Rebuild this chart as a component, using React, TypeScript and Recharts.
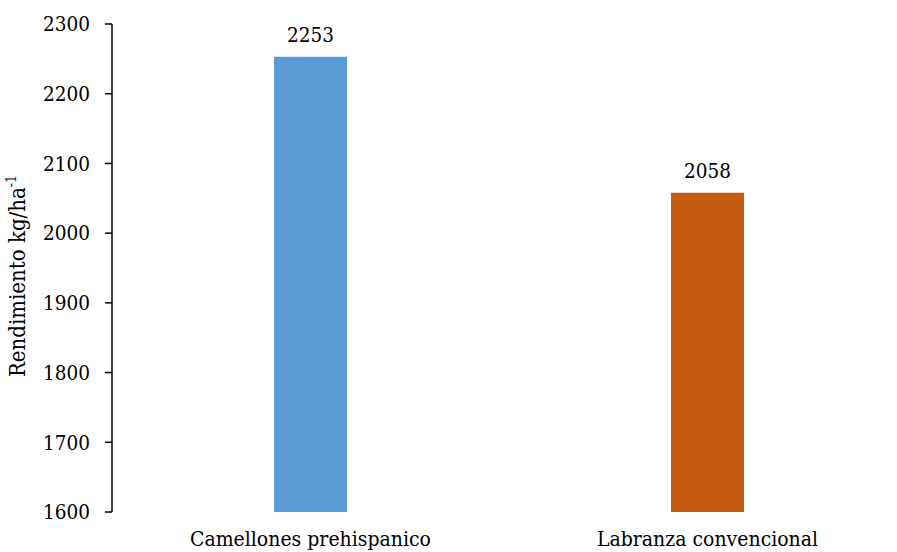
import { BarChart, Bar, XAxis, YAxis, Cell, LabelList } from 'recharts';

const categories = ['Camellones prehispanico', 'Labranza convencional'];
const yields = [2253, 2058];
const barColors = ['#5B9BD5', '#C55A11'];
const yTicks = [1600, 1700, 1800, 1900, 2000, 2100, 2200, 2300];
const boundaryTicks = [0, 1, 2];

const data = categories.map((name, i) => ({ name, value: yields[i] }));

// Times isn't available here, the condensed DejaVu serif is the closest fit
const font = "DejaVu Serif Condensed";

function YLabel({ viewBox }: any) {
  const cy = viewBox.y + viewBox.height / 2 + 8;
  const cx = 25;
  return (
    <text
      x={cx}
      y={cy}
      transform={`rotate(-90, ${cx}, ${cy})`}
      textAnchor="middle"
      fontFamily={font}
      fontSize={22}
      fill="#000"
    >
      Rendimiento kg/ha
      <tspan fontSize={14} dy={-9}>-1</tspan>
    </text>
  );
}

export default function App() {
  return (
    <div style={{ position: 'absolute', left: 0, top: 0, width: 897, height: 552, overflow: 'hidden', background: '#fff' }}>
      <BarChart width={906} height={552} data={data} margin={{ top: 24, right: 0, bottom: 0, left: 0 }}>
        <XAxis
          xAxisId="edges"
          type="number"
          domain={[0, 2]}
          ticks={boundaryTicks}
          tick={false}
          height={0}
          tickSize={6}
          axisLine={{ stroke: '#000', strokeWidth: 1.5 }}
          tickLine={{ stroke: '#000', strokeWidth: 1.5 }}
        />
        <XAxis
          xAxisId="cat"
          dataKey="name"
          height={40}
          axisLine={false}
          tickLine={false}
          tickSize={6}
          tickMargin={13}
          interval={0}
          tick={{ fill: '#000', fontSize: 21, fontFamily: font }}
        />
        <YAxis
          domain={[1600, 2300]}
          ticks={yTicks}
          width={112}
          tickSize={7}
          tickMargin={15}
          interval={0}
          axisLine={{ stroke: '#000', strokeWidth: 1.5 }}
          tickLine={{ stroke: '#000', strokeWidth: 1.5 }}
          tick={{ fill: '#000', fontSize: 20.5, fontFamily: font }}
          label={<YLabel />}
        />
        <Bar dataKey="value" xAxisId="cat" barSize={73} isAnimationActive={false}>
          {data.map((d, i) => (
            <Cell key={d.name} fill={barColors[i]} />
          ))}
          <LabelList
            dataKey="value"
            position="top"
            offset={15}
            fill="#000"
            fontSize={20.5}
            fontFamily={font}
          />
        </Bar>
      </BarChart>
    </div>
  );
}
